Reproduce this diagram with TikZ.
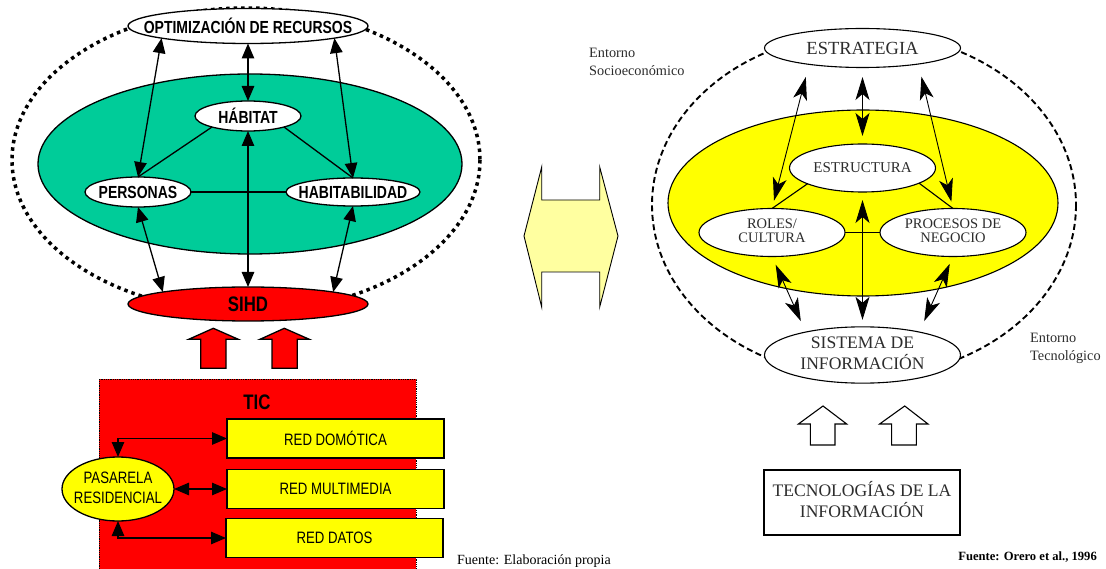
\documentclass[tikz,border=0pt]{standalone}
\usepackage{fontspec}
\setmainfont{Liberation Serif}
\newfontfamily\narrow[FakeStretch=0.8]{Liberation Sans}
\usetikzlibrary{arrows.meta,shapes.geometric}
\definecolor{tealgreen}{RGB}{0,204,153}
\definecolor{pureyellow}{RGB}{255,255,0}
\definecolor{paleyellow}{RGB}{255,255,160}
\definecolor{purered}{RGB}{255,0,0}
\definecolor{greytext}{RGB}{45,45,45}
\newcommand\zw[1]{\makebox[0pt]{#1}}
\newcommand\twol[2]{\makebox[0pt]{\begin{tabular}{@{}c@{}}#1\\#2\end{tabular}}}
\begin{document}
\begin{tikzpicture}[x=1pt,y=-1pt,
  ell/.style={ellipse, draw, line width=1.3pt, fill=white, inner sep=0pt, outer sep=0pt},
  lfont/.style={font=\narrow\bfseries\fontsize{17.5}{20}\selectfont},
  bfont/.style={font=\narrow\fontsize{16.5}{20}\selectfont},
  rell/.style={ellipse, draw, line width=1.1pt, fill=white, inner sep=0pt, outer sep=0pt, text=greytext},
  larr/.style={arrows={Triangle[length=15pt,width=12.5pt]-Triangle[length=15pt,width=12.5pt]}, line width=1.3pt},
  rarr/.style={arrows={Stealth[length=23pt,width=14pt,inset=6pt]-Stealth[length=23pt,width=14pt,inset=6pt]}, line width=0.9pt},
  lline/.style={line width=1.3pt},
  rline/.style={line width=1.1pt},
  ybox/.style={rectangle, draw, line width=1.5pt, fill=pureyellow, minimum width=217, minimum height=39, inner sep=0pt, outer sep=0pt, bfont},
  dots/.style={line width=3.5pt, dash pattern=on 3.5pt off 4pt},
  dashes/.style={line width=1.9pt, dash pattern=on 6pt off 3.5pt}]
\useasboundingbox (0,0) rectangle (1106,569);
\fill[white] (0,0) rectangle (1106,569);

% ---------- LEFT DIAGRAM ----------
\draw[dots] (246,160) ellipse [x radius=234, y radius=152];
\filldraw[fill=tealgreen, line width=1.3pt] (250,164) ellipse [x radius=212, y radius=90];

\node[ell, minimum width=240, minimum height=35, lfont] (opt) at (248,26) {\zw{OPTIMIZACIÓN DE RECURSOS}};
\node[ell, minimum width=106, minimum height=30, lfont] (hab) at (248,116) {\zw{HÁBITAT}};
\node[ell, minimum width=106, minimum height=30, lfont] (pers) at (138,192) {\zw{PERSONAS}};
\node[ell, minimum width=134, minimum height=28, lfont] (habil) at (353,192) {\zw{HABITABILIDAD}};
\node[ell, fill=purered, minimum width=240, minimum height=34, font=\narrow\bfseries\fontsize{21}{24}\selectfont] (sihd) at (248,304) {\zw{SIHD}};

\draw[lline] (hab.-163) -- (pers.north);
\draw[lline] (hab.-17) -- (habil.north);
\draw[lline] (pers.east) -- (habil.west);

\draw[larr] (opt.-172) -- (pers.north);
\draw[larr] (opt.south) -- (hab.north);
\draw[larr] (opt.-8) -- (habil.north);
\draw[larr] (pers.south) -- (sihd.172);
\draw[larr] (hab.south) -- (sihd.north);
\draw[larr] (habil.south) -- (sihd.8);

% red up arrows
\filldraw[fill=purered, line width=1.3pt] (200.7,368.3) -- (200.7,339.3) -- (188.7,339.3) -- (213.3,328.3) -- (238.3,339.3) -- (226,339.3) -- (226,368.3) -- cycle;
\filldraw[fill=purered, line width=1.3pt] (272,368.3) -- (272,339.3) -- (260,339.3) -- (284.3,328.3) -- (309.3,339.3) -- (297.3,339.3) -- (297.3,368.3) -- cycle;

% TIC box
\node[rectangle, draw, densely dotted, line width=0.8pt, fill=purered, minimum width=317, minimum height=196, anchor=north west, inner sep=0pt] (tic) at (99,379) {};
\node[font=\narrow\bfseries\fontsize{21}{24}\selectfont, inner sep=0pt] (ticl) at (257,402) {TIC};

\node[ybox] (dom) at (335.5,438.5) {RED DOMÓTICA};
\node[ybox] (mul) at (335.5,489) {RED MULTIMEDIA};
\node[ybox] (dat) at (334.5,538) {RED DATOS};
\node[ell, fill=pureyellow, minimum width=112, minimum height=64, bfont] (pas) at (118,489) {\twol{PASARELA}{RESIDENCIAL}};

\draw[larr] (pas.north) |- (dom.west);
\draw[larr] (pas.east) -- (mul.west);
\draw[larr] (pas.south) |- (dat.west);

\node[anchor=west, inner sep=0pt, font=\fontsize{14}{16}\selectfont] (f1) at (457,561) {Fuente: Elaboración propia};

% ---------- MIDDLE DOUBLE ARROW ----------
\filldraw[fill=paleyellow, line width=0.9pt] (541.7,167) -- (541.7,200) -- (599.7,200) -- (599.7,167) -- (618,236) -- (599.7,307) -- (599.7,272) -- (541.7,272) -- (541.7,307) -- (524,236) -- cycle;

% ---------- RIGHT DIAGRAM ----------
\draw[dashes] (864,205) ellipse [x radius=212, y radius=172];
\filldraw[fill=pureyellow, line width=1.1pt] (863,203) ellipse [x radius=195, y radius=93];

\node[rell, minimum width=196, minimum height=39, font=\fontsize{18.5}{20}\selectfont] (estr) at (862.5,48) {\zw{ESTRATEGIA}};
\node[rell, minimum width=146, minimum height=48, font=\fontsize{15}{17}\selectfont] (est) at (862.5,168) {\zw{ESTRUCTURA}};
\node[rell, minimum width=146, minimum height=48, font=\fontsize{14.5}{14.5}\selectfont] (roles) at (772,232.5) {\twol{ROLES/}{CULTURA}};
\node[rell, minimum width=146, minimum height=48, font=\fontsize{14.5}{14.5}\selectfont] (proc) at (953,232.5) {\twol{PROCESOS DE}{NEGOCIO}};
\node[rell, minimum width=196, minimum height=50, font=\fontsize{17.6}{19}\selectfont] (sis) at (862.5,355) {\twol{SISTEMA DE}{INFORMACIÓN}};

\draw[rline] (est.-164) -- (roles.north);
\draw[rline] (est.-15) -- (proc.north);
\draw[rline] (roles.east) -- (proc.west);

\draw[rarr, shorten <=13pt, shorten >=8pt] (estr.-163) -- (roles.north);
\draw[rarr, shorten <=9.5pt, shorten >=8pt] (estr.south) -- (est.north);
\draw[rarr, shorten <=13pt, shorten >=7pt] (estr.-16) -- (proc.north);
\draw[rarr, shorten <=8pt, shorten >=7pt] (est.south) -- (sis.north);
\draw[rarr, shorten <=9pt, shorten >=12pt] (roles.south) -- (sis.158);
\draw[rarr, shorten <=8pt, shorten >=12pt] (proc.south) -- (sis.22);

% hollow arrows
\draw[line width=1.1pt] (810.4,445) -- (810.4,424) -- (798.4,424) -- (823,406) -- (846.7,424) -- (835,424) -- (835,445) -- cycle;
\draw[line width=1.1pt] (891.6,445) -- (891.6,424) -- (879.6,424) -- (904.7,406) -- (928,424) -- (916.3,424) -- (916.3,445) -- cycle;

\node[rectangle, draw, line width=1.1pt, minimum width=196, minimum height=65, inner sep=0pt, text=greytext, font=\fontsize{17.6}{19}\selectfont] (tec) at (862,502.5) {\twol{TECNOLOGÍAS DE LA}{INFORMACIÓN}};

\node[anchor=west, align=left, inner sep=0pt, text=greytext, font=\fontsize{14.3}{18}\selectfont] (es) at (589,62) {Entorno\\Socioeconómico};
\node[anchor=west, align=left, inner sep=0pt, text=greytext, font=\fontsize{14.3}{18}\selectfont] (et) at (1030,348) {Entorno\\Tecnológico};

\node[anchor=east, inner sep=0pt, font=\bfseries\fontsize{12.6}{14}\selectfont] (f2) at (1097,557) {Fuente: Orero et al., 1996};
\end{tikzpicture}
\end{document}
